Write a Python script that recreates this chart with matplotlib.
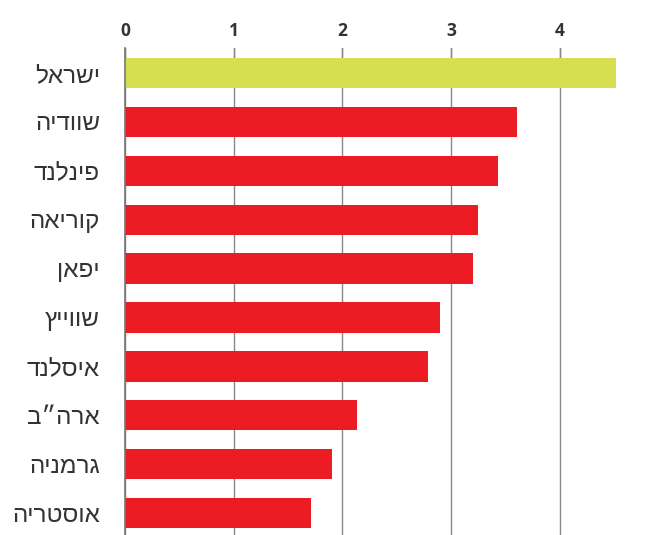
import matplotlib
matplotlib.use("Agg")
import matplotlib.pyplot as plt

countries = ["ישראל", "שוודיה", "פינלנד", "קוריאה", "יפאן",
             "שווייץ", "איסלנד", "ארה״ב", "גרמניה", "אוסטריה"]
values = [4.52, 3.61, 3.43, 3.25, 3.20, 2.90, 2.79, 2.13, 1.90, 1.71]
colors = ["#d5df50"] + ["#ec1c24"] * 9
xticks = [0, 1, 2, 3, 4, 5]

fig = plt.figure(figsize=(6.63, 5.35), dpi=100)
ax = fig.add_axes([0.1885, 0.0, 0.82, 0.91])

ypos = list(range(len(countries)))
ax.barh(ypos, values, height=0.62, color=colors, zorder=2)

ax.set_xlim(0, 5)
ax.set_ylim(9.45, -0.51)
ax.set_xticks(xticks)
ax.xaxis.tick_top()
ax.tick_params(axis="x", length=10, width=1, color="#888888", pad=6,
               labelsize=12.5, labelcolor="#333333", direction="in")
for lab in ax.get_xticklabels():
    lab.set_fontweight("bold")
    lab.set_family("Open Sans")

# matplotlib has no bidi, so reverse Hebrew for display
ax.set_yticks(ypos)
ax.set_yticklabels([c[::-1] for c in countries], family="Liberation Sans",
                   fontsize=17.5, color="#333333")
ax.tick_params(axis="y", length=0, pad=18)

ax.grid(axis="x", color="#888888", linewidth=1, zorder=1)
for s in ["top", "right", "bottom"]:
    ax.spines[s].set_visible(False)
ax.spines["left"].set_color("#777777")
ax.spines["left"].set_linewidth(1.2)
ax.spines["left"].set_zorder(3)

fig.savefig("out.png", dpi=100)
